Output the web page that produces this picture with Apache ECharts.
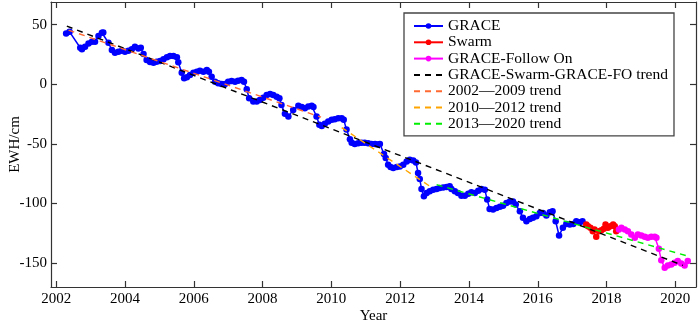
<!DOCTYPE html>
<html>
<head>
<meta charset="utf-8">
<script src="https://cdn.jsdelivr.net/npm/echarts@6/dist/echarts.min.js"></script>
<style>
  html, body { margin: 0; padding: 0; background: #fff; }
  #chart { width: 700px; height: 324px; }
</style>
</head>
<body>
<div id="chart"></div>
<script>
// GRACE monthly EWH (decimal year, cm)
const graceYears = [
  2002.29, 2002.39, 2002.70, 2002.75, 2002.84, 2002.94, 2003.04, 2003.13, 2003.23, 2003.33,
  2003.37, 2003.52, 2003.62, 2003.71, 2003.81, 2003.91, 2004.00, 2004.10, 2004.20, 2004.29,
  2004.39, 2004.46, 2004.54, 2004.63, 2004.73, 2004.83, 2004.92, 2005.02, 2005.12, 2005.22,
  2005.31, 2005.41, 2005.51, 2005.55, 2005.65, 2005.72, 2005.80, 2005.89, 2005.99, 2006.09,
  2006.18, 2006.28, 2006.38, 2006.44, 2006.52, 2006.62, 2006.71, 2006.81, 2006.91, 2007.00,
  2007.10, 2007.20, 2007.29, 2007.39, 2007.46, 2007.54, 2007.61, 2007.73, 2007.83, 2007.92,
  2008.02, 2008.12, 2008.22, 2008.31, 2008.41, 2008.49, 2008.55, 2008.65, 2008.75, 2008.89,
  2009.04, 2009.14, 2009.23, 2009.33, 2009.43, 2009.48, 2009.57, 2009.65, 2009.72, 2009.81,
  2009.91, 2010.01, 2010.10, 2010.20, 2010.30, 2010.36, 2010.44, 2010.54, 2010.59, 2010.68,
  2010.78, 2010.88, 2010.97, 2011.07, 2011.17, 2011.27, 2011.34, 2011.41, 2011.53, 2011.58,
  2011.65, 2011.72, 2011.80, 2011.90, 2011.99, 2012.09, 2012.19, 2012.28, 2012.38, 2012.46,
  2012.52, 2012.57, 2012.62, 2012.69, 2012.77, 2012.86, 2012.96, 2013.06, 2013.15, 2013.25,
  2013.35, 2013.44, 2013.49, 2013.59, 2013.68, 2013.78, 2013.88, 2013.98, 2014.07, 2014.17,
  2014.27, 2014.36, 2014.46, 2014.53, 2014.60, 2014.70, 2014.80, 2014.90, 2014.99, 2015.09,
  2015.19, 2015.28, 2015.36, 2015.48, 2015.57, 2015.67, 2015.77, 2015.86, 2015.96, 2016.06,
  2016.15, 2016.25, 2016.35, 2016.43, 2016.52, 2016.62, 2016.73, 2016.83, 2016.93, 2017.03,
  2017.12, 2017.22, 2017.30
];
const graceEwh = [
  42.6, 44.0, 30.6, 29.3, 31.4, 34.3, 35.6, 35.6, 40.4, 43.2,
  43.5, 34.8, 28.7, 26.4, 27.3, 28.1, 27.3, 28.1, 29.3, 31.4,
  30.1, 30.6, 25.3, 20.3, 18.6, 18.1, 18.9, 19.5, 20.9, 22.6,
  23.7, 23.7, 22.6, 18.4, 9.7, 5.0, 5.9, 7.8, 9.7, 10.5,
  11.4, 10.5, 12.0, 10.5, 6.4, 2.2, 0.8, 0.3, 0.3, 2.2,
  2.8, 2.2, 3.0, 3.6, 2.2, -4.2, -11.7, -14.5, -14.5, -13.1,
  -11.2, -8.9, -8.1, -8.9, -10.4, -11.7, -17.3, -24.8, -27.1, -21.5,
  -18.1, -19.0, -20.0, -18.7, -18.1, -19.0, -27.0, -34.0, -34.9, -33.2,
  -31.3, -29.8, -29.3, -28.4, -28.4, -29.8, -38.0, -46.0, -49.0, -50.0,
  -49.5, -49.0, -49.0, -49.5, -50.0, -50.0, -50.5, -50.0, -58.4, -61.9,
  -67.5, -69.4, -70.3, -69.4, -68.9, -67.5, -64.7, -63.3, -63.9, -65.6,
  -74.4, -79.4, -87.8, -94.0, -91.1, -89.8, -88.4, -87.8, -87.0, -86.5,
  -86.1, -85.6, -87.8, -89.8, -91.1, -93.4, -93.4, -91.7, -90.6, -91.1,
  -89.2, -87.8, -88.4, -96.7, -104.5, -105.1, -103.7, -102.8, -101.8, -99.5,
  -98.2, -98.2, -100.9, -106.5, -112.0, -114.9, -112.9, -112.0, -110.7, -107.9,
  -107.9, -110.1, -107.3, -106.5, -114.9, -126.8, -120.4, -117.1, -117.6, -117.1,
  -114.9, -115.7, -114.9
];

// Swarm
const swarmYears = [
  2017.41, 2017.46, 2017.53, 2017.60, 2017.65, 2017.70, 2017.78, 2017.85,
  2017.92, 2017.97, 2018.04, 2018.11, 2018.19, 2018.24, 2018.28
];
const swarmEwh = [
  -117.6, -119.0, -120.4, -123.2, -121.8, -127.9, -123.2, -122.4,
  -121.2, -117.6, -120.4, -119.0, -117.6, -119.0, -123.2
];

// GRACE-Follow On
const gfoYears = [
  2018.36, 2018.43, 2018.53, 2018.62, 2018.72, 2018.82, 2018.91, 2019.01,
  2019.11, 2019.20, 2019.30, 2019.40, 2019.45, 2019.52, 2019.59, 2019.69,
  2019.78, 2019.88, 2019.98, 2020.07, 2020.17, 2020.27, 2020.36
];
const gfoEwh = [
  -121.8, -120.4, -121.8, -123.2, -126.0, -128.8, -126.0, -126.8,
  -127.9, -128.8, -127.9, -127.9, -128.8, -138.0, -147.5, -153.8,
  -151.9, -151.1, -149.7, -148.3, -150.3, -151.9, -148.3
];

// trend line end points
const trendAllYears = [2002.31, 2020.22];
const trendAllEwh = [48.8, -151.9];
const trend0209Years = [2002.36, 2009.70];
const trend0209Ewh = [45.4, -27.6];
const trend1012Years = [2010.30, 2012.95];
const trend1012Ewh = [-36.3, -87.2];
const trend1320Years = [2013.06, 2020.36];
const trend1320Ewh = [-84.2, -144.1];

const yearTicks = [2002, 2004, 2006, 2008, 2010, 2012, 2014, 2016, 2018, 2020];
const ewhTicks = [-150, -100, -50, 0, 50];

const pairs = (xs, ys) => xs.map((x, i) => [x, ys[i]]);

const font = 'Liberation Serif';
const axisLineStyle = { color: '#333', width: 1.2 };

function markSeries(name, xs, ys, color) {
  return {
    name: name,
    type: 'line',
    data: pairs(xs, ys),
    symbol: 'circle',
    symbolSize: 6.5,
    color: color,
    lineStyle: { color: color, width: 1.5 },
    itemStyle: { color: color },
    z: 3
  };
}

function trendSeries(name, xs, ys, color) {
  return {
    name: name,
    type: 'line',
    data: pairs(xs, ys),
    symbol: 'none',
    color: color,
    lineStyle: { color: color, width: 1.4, type: [6, 5] },
    z: 4
  };
}

const trendLegend = name => ({ name: name, itemStyle: { opacity: 0 } });

const chart = echarts.init(document.getElementById('chart'), null, { renderer: 'canvas' });

chart.setOption({
  animation: false,
  textStyle: { fontFamily: font, color: '#000' },
  grid: { left: 51, right: 4, top: 2, bottom: 37, containLabel: false, outerBoundsMode: 'none' },
  legend: {
    orient: 'vertical',
    left: 404,
    top: 13,
    padding: [5, 6, 4, 9],
    itemWidth: 29,
    itemHeight: 7,
    itemGap: 0.3,
    backgroundColor: '#fff',
    borderColor: '#444',
    borderWidth: 1.3,
    textStyle: { fontFamily: font, fontSize: 15.5, color: '#000' },
    data: [
      'GRACE', 'Swarm', 'GRACE-Follow On',
      trendLegend('GRACE-Swarm-GRACE-FO trend'),
      trendLegend('2002—2009 trend'),
      trendLegend('2010—2012 trend'),
      trendLegend('2013—2020 trend')
    ]
  },
  xAxis: [
    {
      type: 'value',
      min: 2001.85,
      max: 2020.6,
      name: 'Year',
      nameLocation: 'middle',
      nameGap: 21.5,
      nameMoveOverlap: false,
      nameTextStyle: { fontFamily: font, fontSize: 15, color: '#000' },
      axisLine: { onZero: false, lineStyle: axisLineStyle },
      axisTick: { inside: true, length: 6, customValues: yearTicks, lineStyle: axisLineStyle },
      axisLabel: {
        customValues: yearTicks,
        fontFamily: font, fontSize: 15, color: '#000', margin: 5,
        formatter: v => String(v)
      },
      splitLine: { show: false }
    },
    {
      type: 'value',
      position: 'top',
      min: 2001.85,
      max: 2020.6,
      axisLine: { onZero: false, lineStyle: axisLineStyle },
      axisTick: { inside: true, length: 6, customValues: yearTicks, lineStyle: axisLineStyle },
      axisLabel: { show: false },
      splitLine: { show: false }
    }
  ],
  yAxis: [
    {
      type: 'value',
      min: -170,
      max: 69,
      name: 'EWH/cm',
      nameLocation: 'middle',
      nameGap: 28.5,
      nameMoveOverlap: false,
      nameRotate: 90,
      nameTextStyle: { fontFamily: font, fontSize: 15, color: '#000' },
      axisLine: { show: true, onZero: false, lineStyle: axisLineStyle },
      axisTick: { show: true, inside: true, length: 6, customValues: ewhTicks, lineStyle: axisLineStyle },
      axisLabel: {
        customValues: ewhTicks,
        fontFamily: font, fontSize: 15, color: '#000', margin: 4,
        formatter: v => String(v)
      },
      splitLine: { show: false }
    },
    {
      type: 'value',
      position: 'right',
      min: -170,
      max: 69,
      axisLine: { show: true, onZero: false, lineStyle: axisLineStyle },
      axisTick: { show: true, inside: true, length: 6, customValues: ewhTicks, lineStyle: axisLineStyle },
      axisLabel: { show: false },
      splitLine: { show: false }
    }
  ],
  series: [
    markSeries('GRACE', graceYears, graceEwh, '#0000ff'),
    markSeries('Swarm', swarmYears, swarmEwh, '#ff0000'),
    markSeries('GRACE-Follow On', gfoYears, gfoEwh, '#ff00ff'),
    trendSeries('GRACE-Swarm-GRACE-FO trend', trendAllYears, trendAllEwh, '#000000'),
    trendSeries('2002—2009 trend', trend0209Years, trend0209Ewh, '#ff6a33'),
    trendSeries('2010—2012 trend', trend1012Years, trend1012Ewh, '#ffa500'),
    trendSeries('2013—2020 trend', trend1320Years, trend1320Ewh, '#00ee00')
  ]
});
</script>
</body>
</html>
